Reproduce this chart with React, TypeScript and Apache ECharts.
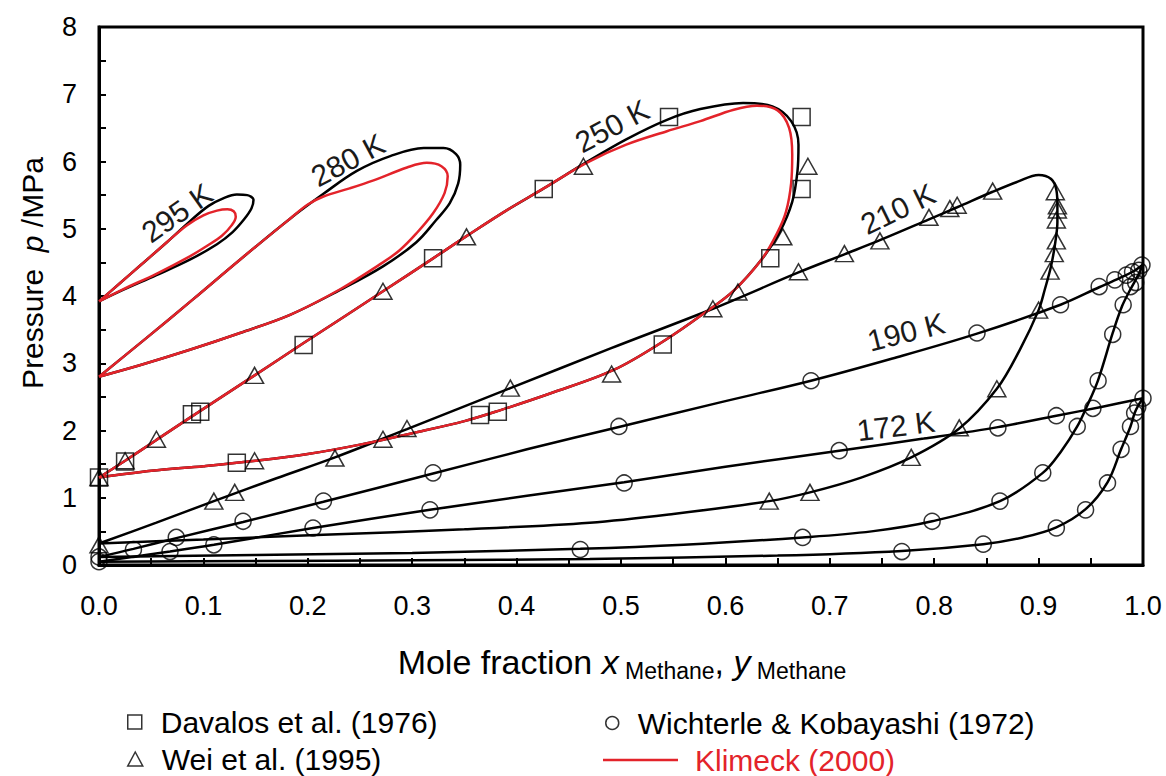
import React, { useEffect, useRef } from 'react';
import * as echarts from 'echarts';

const FONT = '"Liberation Sans", Arial, Helvetica, sans-serif';
const RED = '#e3232a';

type P = [number, number];

// ---- model curves (black) ----
const c295: P[] = [[0,3.92],[0.02,4.19],[0.04,4.46],[0.065,4.8],[0.087,5.11],[0.105,5.34],[0.12,5.46],[0.132,5.51],[0.142,5.5],[0.148,5.43],[0.146,5.3],[0.139,5.14],[0.128,4.95],[0.113,4.77],[0.087,4.54],[0.055,4.31],[0.023,4.09],[0,3.92]];
const c280: P[] = [[0,2.8],[0.045,3.37],[0.09,3.95],[0.135,4.54],[0.183,5.15],[0.215,5.52],[0.247,5.86],[0.279,6.08],[0.311,6.2],[0.33,6.2],[0.342,6.11],[0.346,5.95],[0.344,5.67],[0.336,5.38],[0.323,5.13],[0.304,4.8],[0.272,4.44],[0.231,4.09],[0.183,3.72],[0.135,3.45],[0.087,3.2],[0.039,2.97],[0,2.8]];
const c250: P[] = [[0,1.3],[0.025,1.55],[0.055,1.86],[0.089,2.21],[0.149,2.82],[0.196,3.3],[0.272,4.07],[0.32,4.56],[0.352,4.89],[0.39,5.27],[0.426,5.6],[0.467,5.99],[0.505,6.33],[0.544,6.62],[0.576,6.78],[0.617,6.87],[0.645,6.82],[0.663,6.6],[0.67,6.25],[0.669,5.85],[0.664,5.4],[0.652,4.95],[0.635,4.55],[0.608,4.08],[0.582,3.77],[0.544,3.36],[0.493,2.9],[0.432,2.55],[0.384,2.3],[0.35,2.14],[0.3,1.96],[0.25,1.79],[0.2,1.65],[0.15,1.55],[0.1,1.47],[0.05,1.4],[0,1.3]];
const c210: P[] = [[0,0.32],[0.055,0.63],[0.11,0.95],[0.17,1.29],[0.226,1.6],[0.295,2.02],[0.394,2.63],[0.49,3.22],[0.588,3.81],[0.67,4.35],[0.714,4.62],[0.748,4.83],[0.795,5.14],[0.822,5.32],[0.856,5.55],[0.88,5.7],[0.9,5.8],[0.912,5.74],[0.917,5.58],[0.918,5.35],[0.918,5.1],[0.916,4.8],[0.912,4.45],[0.906,4.1],[0.9,3.79],[0.882,3.2],[0.86,2.62],[0.824,2.03],[0.778,1.6],[0.73,1.3],[0.681,1.08],[0.642,0.95],[0.55,0.76],[0.47,0.63],[0.35,0.53],[0.215,0.45],[0.1,0.38],[0,0.32]];
const bubble190: P[] = [[0,0.12],[0.033,0.24],[0.074,0.4],[0.138,0.64],[0.215,0.94],[0.32,1.36],[0.41,1.72],[0.5,2.06],[0.59,2.4],[0.682,2.74],[0.76,3.07],[0.841,3.44],[0.921,3.87],[0.958,4.13],[0.978,4.27],[0.99,4.36],[1,4.47]];
const dew190: P[] = [[1,4.47],[0.995,4.3],[0.988,4.1],[0.98,3.85],[0.971,3.45],[0.957,2.75],[0.946,2.35],[0.937,2.06],[0.922,1.7],[0.904,1.37],[0.863,0.95],[0.798,0.65],[0.74,0.5],[0.674,0.41],[0.56,0.3],[0.461,0.24],[0.3,0.18],[0.15,0.15],[0,0.12]];
const bubble172: P[] = [[0,0.05],[0.068,0.2],[0.11,0.3],[0.205,0.55],[0.317,0.82],[0.41,1.03],[0.503,1.23],[0.6,1.46],[0.709,1.7],[0.79,1.88],[0.861,2.05],[0.917,2.22],[0.96,2.35],[1,2.48]];
const dew172: P[] = [[1,2.48],[0.995,2.36],[0.992,2.26],[0.988,2.06],[0.979,1.72],[0.966,1.23],[0.945,0.83],[0.917,0.56],[0.885,0.41],[0.847,0.31],[0.769,0.21],[0.65,0.14],[0.47,0.09],[0.3,0.07],[0.15,0.06],[0,0.05]];

// ---- Klimeck (2000) (red) ----
const k295: P[] = [[0,3.92],[0.02,4.19],[0.04,4.46],[0.065,4.8],[0.084,5.05],[0.1,5.2],[0.113,5.27],[0.123,5.29],[0.129,5.26],[0.131,5.18],[0.127,5.05],[0.118,4.9],[0.104,4.75],[0.087,4.59],[0.055,4.33],[0.023,4.1],[0,3.92]];
const k280: P[] = [[0,2.8],[0.045,3.37],[0.09,3.95],[0.135,4.54],[0.183,5.15],[0.2,5.36],[0.215,5.48],[0.24,5.6],[0.263,5.72],[0.295,5.91],[0.314,5.98],[0.328,5.93],[0.334,5.78],[0.331,5.53],[0.32,5.23],[0.304,4.93],[0.288,4.68],[0.272,4.5],[0.231,4.1],[0.183,3.72],[0.135,3.45],[0.087,3.2],[0.039,2.97],[0,2.8]];
const k250: P[] = [[0,1.3],[0.025,1.55],[0.055,1.86],[0.089,2.21],[0.149,2.82],[0.196,3.3],[0.272,4.07],[0.32,4.56],[0.352,4.89],[0.39,5.27],[0.426,5.6],[0.467,5.98],[0.505,6.25],[0.544,6.45],[0.576,6.6],[0.608,6.77],[0.63,6.83],[0.65,6.76],[0.661,6.5],[0.664,6.1],[0.663,5.68],[0.658,5.25],[0.65,4.95],[0.635,4.55],[0.608,4.08],[0.582,3.77],[0.544,3.36],[0.493,2.9],[0.432,2.55],[0.384,2.3],[0.35,2.14],[0.3,1.96],[0.25,1.79],[0.2,1.65],[0.15,1.55],[0.1,1.47],[0.05,1.4],[0,1.3]];

// ---- experimental data ----
const davalos: P[] = [[0,1.3],[0.025,1.54],[0.089,2.24],[0.097,2.28],[0.132,1.52],[0.196,3.27],[0.32,4.56],[0.365,2.23],[0.382,2.28],[0.426,5.59],[0.54,3.28],[0.546,6.66],[0.643,4.56],[0.673,5.59],[0.673,6.66]];
const wei: P[] = [[0,0.3],[0,1.3],[0.025,1.55],[0.055,1.87],[0.11,0.95],[0.13,1.08],[0.149,2.82],[0.149,1.55],[0.226,1.59],[0.272,1.87],[0.272,4.07],[0.295,2.03],[0.352,4.88],[0.394,2.63],[0.464,5.93],[0.491,2.84],[0.588,3.81],[0.612,4.06],[0.642,0.95],[0.655,4.88],[0.67,4.36],[0.679,5.93],[0.681,1.08],[0.714,4.63],[0.748,4.82],[0.778,1.6],[0.795,5.17],[0.815,5.3],[0.822,5.35],[0.824,2.04],[0.856,5.56],[0.86,2.62],[0.9,3.79],[0.911,4.37],[0.915,4.63],[0.917,4.82],[0.917,5.13],[0.918,5.28],[0.918,5.34],[0.916,5.55]];
const wichterle: P[] = [[0,0.05],[0,0.12],[0.033,0.23],[0.068,0.2],[0.074,0.41],[0.11,0.3],[0.138,0.65],[0.205,0.55],[0.215,0.95],[0.317,0.82],[0.32,1.37],[0.461,0.23],[0.498,2.06],[0.503,1.22],[0.674,0.41],[0.682,2.74],[0.709,1.7],[0.769,0.2],[0.798,0.65],[0.841,3.45],[0.847,0.31],[0.861,2.04],[0.863,0.95],[0.904,1.37],[0.917,0.55],[0.917,2.22],[0.921,3.87],[0.937,2.06],[0.945,0.82],[0.952,2.33],[0.957,2.74],[0.958,4.14],[0.966,1.22],[0.971,3.43],[0.973,4.24],[0.979,1.72],[0.981,3.87],[0.984,4.31],[0.988,2.06],[0.988,4.14],[0.99,4.36],[0.992,2.26],[0.993,4.2],[0.995,2.35],[0.996,4.38],[0.999,4.46],[1,2.48]];

// ---- isotherm labels ----
const isothermNames = ['295 K', '280 K', '250 K', '210 K', '190 K', '172 K'];
const isothermAnchors: P[] = [[0.0747,5.234],[0.2385,6.022],[0.4914,6.528],[0.7653,5.294],[0.773,3.465],[0.7634,2.067]];
const isothermAngles = [35, 28, 28, 26, 14, 7];

const xTicks = [0, 1, 0.05];
const yTicks = [0, 8, 0.5];

const LEG_DAV = 'Davalos et al. (1976)';
const LEG_WEI = 'Wei et al. (1995)';
const LEG_WIC = 'Wichterle & Kobayashi (1972)';
const LEG_KLI = 'Klimeck (2000)';

export default function App() {
  const ref = useRef<HTMLDivElement>(null);
  useEffect(() => {
    if (!ref.current) return;
    const chart = echarts.init(ref.current, undefined, { renderer: 'svg' });
    const blackLine = (name: string, data: P[]) => ({
      type: 'line', name, data, symbol: 'none', showSymbol: false, smooth: 0.35,
      lineStyle: { color: '#000', width: 2.5 }, z: 2, silent: true,
    });
    const redLine = (data: P[]) => ({
      type: 'line', name: LEG_KLI, data, symbol: 'none', showSymbol: false, smooth: 0.35,
      lineStyle: { color: RED, width: 2.5 }, itemStyle: { color: RED }, z: 3, silent: true,
    });
    const hollow = { color: 'rgba(0,0,0,0)', borderColor: '#000', borderWidth: 1.5 };
    const legendText = { fontSize: 30, fontFamily: FONT, color: '#000', padding: [0, 0, 0, 14] };
    const option: any = {
      animation: false,
      backgroundColor: '#fff',
      grid: { left: 99, right: 23, top: 27, bottom: 211, show: true, borderColor: '#000', borderWidth: 3, backgroundColor: 'rgba(0,0,0,0)' },
      xAxis: {
        type: 'value', min: xTicks[0], max: xTicks[1], interval: xTicks[2],
        axisLine: { show: true, lineStyle: { color: '#000', width: 3 } },
        axisTick: { show: true, inside: true, length: 7, lineStyle: { color: '#000', width: 2 } },
        axisLabel: {
          margin: 27, fontSize: 27, fontFamily: FONT, color: '#000',
          formatter: (v: number) => { const r = Math.round(v * 10); return Math.abs(v * 10 - r) < 1e-6 ? (r / 10).toFixed(1) : ''; },
        },
        splitLine: { show: false },
      },
      yAxis: {
        type: 'value', min: yTicks[0], max: yTicks[1], interval: yTicks[2],
        axisLine: { show: true, lineStyle: { color: '#000', width: 3 } },
        axisTick: { show: true, inside: true, length: 7, lineStyle: { color: '#000', width: 2 } },
        axisLabel: {
          margin: 22, fontSize: 27, fontFamily: FONT, color: '#000',
          formatter: (v: number) => (Math.abs(v - Math.round(v)) < 1e-6 ? String(Math.round(v)) : ''),
        },
        splitLine: { show: false },
      },
      legend: [
        { data: [{ name: LEG_DAV, icon: 'rect' }], left: 127, top: 707, padding: 0, itemWidth: 14, itemHeight: 14, selectedMode: false, itemStyle: hollow, textStyle: legendText },
        { data: [{ name: LEG_WEI, icon: 'triangle' }], left: 127, top: 744, padding: 0, itemWidth: 15, itemHeight: 14, selectedMode: false, itemStyle: hollow, textStyle: legendText },
        { data: [{ name: LEG_WIC, icon: 'circle' }], left: 605, top: 708, padding: 0, itemWidth: 13, itemHeight: 13, selectedMode: false, itemStyle: hollow, textStyle: legendText },
        {
          data: [{ name: LEG_KLI, icon: 'rect', itemStyle: { color: RED, borderWidth: 0 } }], left: 603, top: 745, padding: 0, itemWidth: 75, itemHeight: 2.5,
          selectedMode: false, textStyle: { ...legendText, color: RED, padding: [0, 0, 0, 12] },
        },
      ],
      graphic: [
        {
          type: 'text', x: 32, y: 273, rotation: Math.PI / 2, silent: true,
          style: {
            text: 'Pressure  {i|p} /MPa', fontSize: 30, fontFamily: FONT, fill: '#000', align: 'center', verticalAlign: 'middle',
            rich: { i: { fontStyle: 'italic', fontSize: 30, fontFamily: FONT, fill: '#000' } },
          },
        },
        {
          type: 'text', x: 622, y: 662, silent: true,
          style: {
            text: 'Mole fraction {i|x}{s| Methane}, {i|y}{s| Methane}', fontSize: 34, lineHeight: 40, fontFamily: FONT, fill: '#000', align: 'center', verticalAlign: 'middle',
            rich: {
              i: { fontStyle: 'italic', fontSize: 34, lineHeight: 40, fontFamily: FONT, fill: '#000' },
              s: { fontSize: 23, lineHeight: 20, verticalAlign: 'bottom', fontFamily: FONT, fill: '#000' },
            },
          },
        },
      ],
      series: [
        blackLine('295 K model', c295),
        blackLine('280 K model', c280),
        blackLine('250 K model', c250),
        blackLine('210 K model', c210),
        blackLine('190 K bubble', bubble190),
        blackLine('190 K dew', dew190),
        blackLine('172 K bubble', bubble172),
        blackLine('172 K dew', dew172),
        redLine(k295),
        redLine(k280),
        redLine(k250),
        { type: 'scatter', name: LEG_DAV, data: davalos, symbol: 'rect', symbolSize: 17, itemStyle: hollow, z: 5, silent: true },
        { type: 'scatter', name: LEG_WEI, data: wei, symbol: 'triangle', symbolSize: [18, 16], itemStyle: hollow, z: 5, silent: true },
        { type: 'scatter', name: LEG_WIC, data: wichterle, symbol: 'circle', symbolSize: 16, itemStyle: hollow, z: 5, silent: true },
        {
          type: 'scatter', name: 'isotherm labels', symbolSize: 1, itemStyle: { color: '#fff', opacity: 1 }, z: 6, silent: true,
          data: isothermNames.map((n, i) => ({ name: n, value: isothermAnchors[i], label: { rotate: isothermAngles[i] } })),
          label: { show: true, position: 'inside', formatter: '{b}', fontSize: 30, fontFamily: FONT, color: '#1a1a1a', opacity: 1, textBorderWidth: 0 },
        },
      ],
    };
    chart.setOption(option);
    return () => chart.dispose();
  }, []);
  return <div ref={ref} style={{ position: 'fixed', left: 0, top: 0, width: 1166, height: 776, background: '#fff' }} />;
}
